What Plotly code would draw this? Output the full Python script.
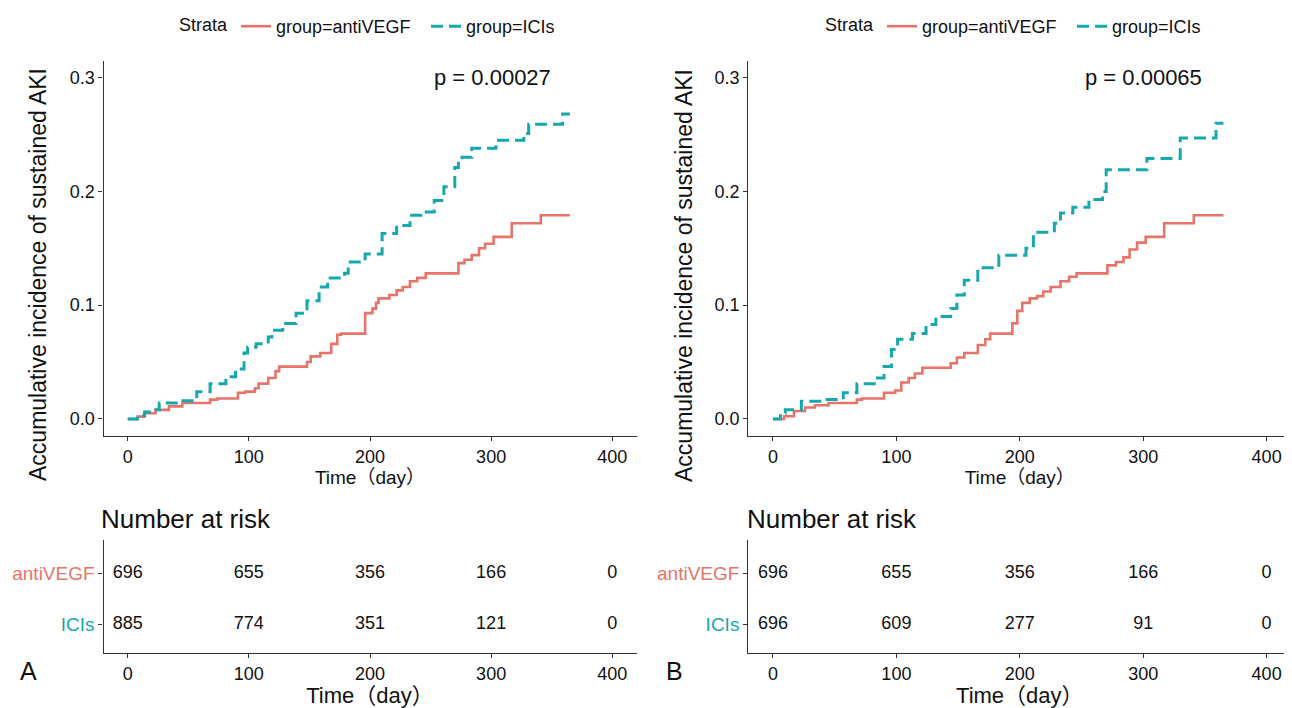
import plotly.graph_objects as go

# ---------------- data ----------------
time_ticks = [0, 100, 200, 300, 400]

# Panel A
a_anti_t = [0, 8, 14, 23, 34, 45, 68, 74, 91, 97, 105, 108, 116, 122, 125, 148, 151, 159, 168, 173, 176, 196, 202, 205, 207, 216, 222, 227, 233, 239, 246, 273, 278, 284, 290, 295, 302, 317, 341, 365]
a_anti_v = [0, .002, .005, .008, .011, .014, .017, .018, .023, .024, .027, .031, .036, .042, .046, .050, .055, .058, .066, .074, .075, .093, .097, .102, .106, .109, .113, .116, .121, .124, .128, .137, .140, .144, .150, .154, .160, .172, .179, .179]
a_ici_t = [0, 8, 14, 20, 26, 43, 57, 68, 81, 89, 96, 99, 106, 116, 119, 128, 139, 148, 158, 165, 179, 182, 196, 210, 222, 233, 242, 253, 261, 270, 273, 276, 284, 304, 327, 331, 359, 365]
a_ici_v = [0, .003, .006, .008, .014, .016, .024, .031, .037, .044, .058, .063, .066, .072, .078, .084, .093, .104, .116, .124, .128, .138, .145, .163, .170, .179, .182, .192, .204, .221, .227, .230, .238, .245, .251, .259, .268, .268]

# Panel B
b_anti_t = [0, 9, 17, 26, 34, 45, 68, 72, 90, 99, 104, 110, 115, 121, 144, 149, 155, 166, 172, 176, 194, 198, 202, 208, 214, 219, 225, 233, 240, 246, 271, 278, 284, 289, 295, 302, 317, 341, 365]
b_anti_v = [0, .0023, .007, .010, .012, .014, .017, .018, .023, .025, .032, .036, .040, .045, .049, .054, .058, .065, .070, .075, .084, .095, .102, .106, .108, .112, .116, .121, .125, .128, .135, .138, .142, .149, .155, .160, .172, .179, .179]
b_ici_t = [0, 6, 10, 23, 41, 57, 68, 82, 90, 96, 101, 113, 124, 132, 144, 149, 155, 166, 183, 205, 211, 228, 233, 243, 256, 267, 270, 303, 330, 359, 365]
b_ici_v = [0, .005, .008, .0155, .017, .023, .031, .036, .046, .061, .070, .075, .083, .090, .097, .109, .122, .133, .144, .150, .164, .172, .181, .186, .193, .200, .219, .229, .247, .260, .260]

a_risk_anti = [696, 655, 356, 166, 0]
a_risk_ici = [885, 774, 351, 121, 0]
b_risk_anti = [696, 655, 356, 166, 0]
b_risk_ici = [696, 609, 277, 91, 0]

pvals = ["p = 0.00027", "p = 0.00065"]
panel_labels = ["A", "B"]
group_names = ["group=antiVEGF", "group=ICIs"]
row_names = ["antiVEGF", "ICIs"]

# ---------------- style ----------------
RED = "#E8736A"
TEAL = "#17A8AE"
INK = "#111111"
FONT = "Liberation Sans, Arial, Noto Sans CJK SC, sans-serif"
OFF = 8                    # page body margin
W, H = 1292 - OFF, 708 - OFF

def px_x(p):
    return (p - OFF) / W

def px_y(p):
    return 1 - (p - OFF) / H

fig = go.Figure()

panels = [
    dict(anti=(a_anti_t, a_anti_v), ici=(a_ici_t, a_ici_v), risk=(a_risk_anti, a_risk_ici),
         xd=[px_x(103.5), px_x(636.5)], leg="legend"),
    dict(anti=(b_anti_t, b_anti_v), ici=(b_ici_t, b_ici_v), risk=(b_risk_anti, b_risk_ici),
         xd=[px_x(748.3), min(1.0, px_x(1291.3))], leg="legend2"),
]

main_yd = [px_y(436), px_y(60.6)]
tab_yd = [px_y(653), px_y(540)]

axis_common = dict(showline=True, linecolor="#333333", linewidth=1.2, ticks="outside",
                   ticklen=4, tickcolor="#333333", showgrid=False, zeroline=False,
                   tickfont=dict(size=18, color=INK, family=FONT))

layout_axes = {}
for i, p in enumerate(panels):
    mx = "x" if i == 0 else "x2"
    my = "y" if i == 0 else "y2"
    tx = "x3" if i == 0 else "x4"
    ty = "y3" if i == 0 else "y4"

    fig.add_trace(go.Scatter(x=p["anti"][0], y=p["anti"][1], mode="lines", line_shape="hv",
                             line=dict(color=RED, width=2.6), name=group_names[0],
                             xaxis=mx, yaxis=my, legend=p["leg"]))
    fig.add_trace(go.Scatter(x=p["ici"][0], y=p["ici"][1], mode="lines", line_shape="hv",
                             line=dict(color=TEAL, width=3, dash="12px,6px"), name=group_names[1],
                             xaxis=mx, yaxis=my, legend=p["leg"]))
    # risk table
    fig.add_trace(go.Scatter(x=time_ticks, y=[2] * 5, mode="text",
                             text=[str(v) for v in p["risk"][0]],
                             textfont=dict(size=18, color=INK, family=FONT),
                             xaxis=tx, yaxis=ty, showlegend=False, hoverinfo="skip"))
    fig.add_trace(go.Scatter(x=time_ticks, y=[1] * 5, mode="text",
                             text=[str(v) for v in p["risk"][1]],
                             textfont=dict(size=18, color=INK, family=FONT),
                             xaxis=tx, yaxis=ty, showlegend=False, hoverinfo="skip"))

    kx = "xaxis" if i == 0 else "xaxis2"
    ky = "yaxis" if i == 0 else "yaxis2"
    ktx = "xaxis3" if i == 0 else "xaxis4"
    kty = "yaxis3" if i == 0 else "yaxis4"
    layout_axes[kx] = dict(axis_common, domain=p["xd"], range=[-20, 420], tickvals=time_ticks,
                           anchor=my,
                           title=dict(text="Time（day）", font=dict(size=19, family=FONT, color=INK),
                                      standoff=2))
    layout_axes[ky] = dict(axis_common, domain=main_yd, range=[-0.015, 0.315],
                           tickvals=[0, 0.1, 0.2, 0.3], ticktext=["0.0", "0.1", "0.2", "0.3"],
                           anchor=mx)
    layout_axes[ktx] = dict(axis_common, domain=p["xd"], range=[-20, 420], tickvals=time_ticks,
                            anchor=ty,
                            title=dict(text="Time（day）", font=dict(size=22, family=FONT, color=INK),
                                       standoff=0))
    layout_axes[kty] = dict(axis_common, domain=tab_yd, range=[0.45, 2.65], tickvals=[1, 2],
                            ticktext=[f"<span style='color:{TEAL}'>{row_names[1]}</span>",
                                      f"<span style='color:{RED}'>{row_names[0]}</span>"],
                            tickfont=dict(size=19, family=FONT, color=INK),
                            anchor=tx)

annotations = []
for i in range(2):
    off = 0 if i == 0 else 646
    mx = "x" if i == 0 else "x2"
    my = "y" if i == 0 else "y2"
    annotations.append(dict(x=251, y=0.3, xref=mx, yref=my, text=pvals[i], showarrow=False,
                            xanchor="left", yanchor="middle",
                            font=dict(size=22, family=FONT, color=INK)))
    annotations.append(dict(x=px_x(38 + off), y=px_y(275), xref="paper", yref="paper",
                            text="Accumulative incidence of sustained AKI", textangle=-90,
                            showarrow=False, xanchor="center", yanchor="middle",
                            font=dict(size=23, family=FONT, color=INK)))
    annotations.append(dict(x=px_x(99 + off), y=px_y(519), xref="paper", yref="paper",
                            text="Number at risk", showarrow=False, xanchor="left", yanchor="middle",
                            font=dict(size=26, family=FONT, color=INK)))
    annotations.append(dict(x=px_x(28 + off), y=px_y(671), xref="paper", yref="paper",
                            text=panel_labels[i], showarrow=False, xanchor="center", yanchor="middle",
                            font=dict(size=25, family=FONT, color=INK)))

legend_common = dict(orientation="h", xanchor="left", yanchor="top", bgcolor="rgba(0,0,0,0)",
                     title=dict(text="Strata", side="left", font=dict(size=18, family=FONT, color=INK)),
                     font=dict(size=18, family=FONT, color=INK), itemwidth=30,
                     entrywidth=145, entrywidthmode="pixels")

fig.update_layout(
    width=W, height=H,
    margin=dict(l=0, r=0, t=0, b=0),
    paper_bgcolor="white", plot_bgcolor="white",
    font=dict(family=FONT, size=16, color=INK),
    annotations=annotations,
    legend=dict(legend_common, x=px_x(177), y=1.0),
    legend2=dict(legend_common, x=px_x(177 + 646), y=1.0),
    **layout_axes,
)

fig.write_html("out.html")
